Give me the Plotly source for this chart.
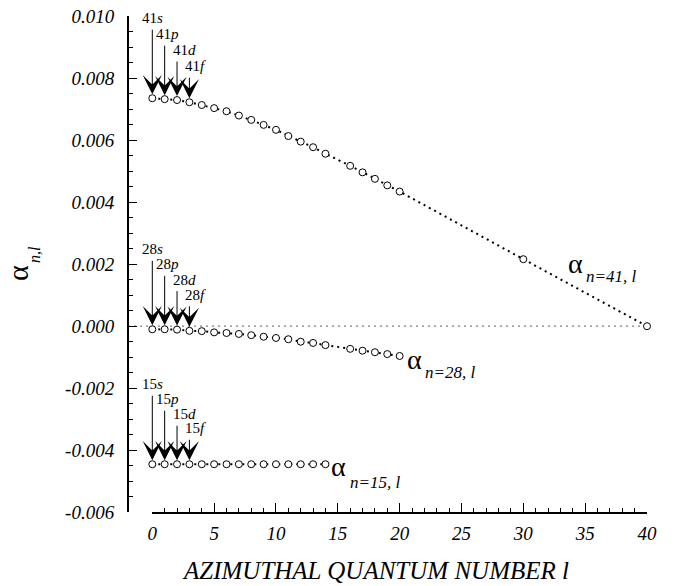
import plotly.graph_objects as go

# ---------------- data ----------------
l_41 = [0, 1, 2, 3, 4, 5, 6, 7, 8, 9, 10, 11, 12, 13, 14, 16, 17, 18, 19, 20, 30, 40]
alpha_41 = [0.00735, 0.00732, 0.00729, 0.00722, 0.00713, 0.00703, 0.00693, 0.00679,
            0.00665, 0.00649, 0.00633, 0.00613, 0.00595, 0.00577, 0.00556, 0.00517,
            0.00496, 0.00475, 0.00454, 0.00434, 0.00216, 0.00000]

l_28 = [0, 1, 2, 3, 4, 5, 6, 7, 8, 9, 10, 11, 12, 13, 14, 16, 17, 18, 19, 20]
alpha_28 = [-0.00010, -0.00010, -0.00011, -0.00015, -0.00016, -0.00020, -0.00022,
            -0.00025, -0.00029, -0.00034, -0.00038, -0.00042, -0.00050, -0.00054,
            -0.00061, -0.00073, -0.00079, -0.00084, -0.00090, -0.00096]

l_15 = [0, 1, 2, 3, 4, 5, 6, 7, 8, 9, 10, 11, 12, 13, 14]
alpha_15 = [-0.00445, -0.00445, -0.00445, -0.00445, -0.00445, -0.00445, -0.00445,
            -0.00445, -0.00445, -0.00445, -0.00445, -0.00445, -0.00445, -0.00445,
            -0.00445]

orbital_letters = ["s", "p", "d", "f"]
x_tickvals = [0, 5, 10, 15, 20, 25, 30, 35, 40]
y_tickvals = [-0.006, -0.004, -0.002, 0.000, 0.002, 0.004, 0.006, 0.008, 0.010]
y_ticktext = ["-0.006", "-0.004", "-0.002", "0.000", "0.002", "0.004", "0.006", "0.008", "0.010"]

x_title = "AZIMUTHAL QUANTUM NUMBER l"

# ---------------- layout helpers ----------------
W, H = 684, 586
OFF = 8  # page body margin
def px(xp):
    return (xp - OFF) / W
def py(yp):
    return 1 - (yp - OFF) / H

SERIF = "Liberation Serif, Times New Roman, Times, serif"

fig = go.Figure()

series = [(41, l_41, alpha_41), (28, l_28, alpha_28), (15, l_15, alpha_15)]
for n, ls, vals in series:
    fig.add_trace(go.Scatter(
        x=ls, y=vals, mode="lines+markers", cliponaxis=False,
        line=dict(color="black", width=2, dash="2px,4px"),
        marker=dict(symbol="circle", size=7, color="white",
                    line=dict(color="black", width=1)),
        showlegend=False, name=f"n={n}"))

annotations = []
arrow_ay = [-70, -55, -40, -26]
label_yshift = [80, 65, 50, 36]
label_xshift = [0, 3, 7, 6]
for n, ls, vals in series:
    for i, letter in enumerate(orbital_letters):
        annotations.append(dict(
            x=ls[i], y=vals[i], xref="x", yref="y", text="",
            showarrow=True, arrowhead=3, arrowsize=3.2, arrowwidth=1,
            arrowcolor="black", ax=0, ay=arrow_ay[i], standoff=4))
        annotations.append(dict(
            x=ls[i], y=vals[i], xref="x", yref="y",
            text=f"{n}<i>{letter}</i>", showarrow=False,
            xshift=label_xshift[i], yshift=label_yshift[i],
            font=dict(family=SERIF, size=15, color="black")))

# series labels alpha_{n,l}
series_labels = [
    (41, 34.24, 0.00202, 34.93, 0.00159),
    (28, 21.21, -0.00106, 21.90, -0.00148),
    (15, 15.06, -0.00451, 15.83, -0.00503),
]
for n, ax_, ay_, sx, sy in series_labels:
    annotations.append(dict(x=ax_, y=ay_, xref="x", yref="y", text="α",
                            showarrow=False, xanchor="center", yanchor="middle",
                            font=dict(family=SERIF, size=28, color="black")))
    annotations.append(dict(x=sx, y=sy, xref="x", yref="y", text=f"n={n}, l",
                            showarrow=False, xanchor="left", yanchor="middle",
                            font=dict(family=SERIF, size=17, color="black", style="italic")))

# y-axis title
annotations.append(dict(x=px(17), y=py(273), xref="paper", yref="paper", text="α",
                        showarrow=False, textangle=-90, xanchor="center", yanchor="middle",
                        font=dict(family=SERIF, size=30, color="black")))
annotations.append(dict(x=px(35), y=py(255), xref="paper", yref="paper", text="n,l",
                        showarrow=False, textangle=-90, xanchor="center", yanchor="middle",
                        font=dict(family=SERIF, size=16, color="black", style="italic")))
# x-axis title
annotations.append(dict(x=px(375), y=py(570), xref="paper", yref="paper", text=x_title,
                        showarrow=False, xanchor="center", yanchor="middle",
                        font=dict(family=SERIF, size=25, color="black", style="italic")))

shapes = [dict(type="line", xref="paper", yref="y", x0=px(128), x1=px(650), y0=0, y1=0,
               line=dict(color="#808080", width=1.2, dash="2px,4px"), layer="below")]

fig.update_layout(
    width=W, height=H, autosize=False,
    margin=dict(l=0, r=0, t=0, b=0, autoexpand=False),
    paper_bgcolor="white", plot_bgcolor="white",
    font=dict(family=SERIF),
    annotations=annotations, shapes=shapes,
    xaxis=dict(domain=[px(152.3), px(647)], range=[0, 40], anchor="y",
               showline=True, linecolor="black", linewidth=1.5,
               showgrid=False, zeroline=False, automargin=False,
               tickmode="array", tickvals=x_tickvals,
               ticks="inside", ticklen=10, tickwidth=1, tickcolor="black",
               minor=dict(ticks="inside", ticklen=5, dtick=1, tick0=0,
                          tickcolor="black", tickwidth=1, showgrid=False),
               ticklabelstandoff=3, ticklabeloverflow="allow",
               tickfont=dict(family=SERIF, size=19, color="black", style="italic")),
    yaxis=dict(domain=[py(512.3), py(16)], range=[-0.006, 0.010], anchor="free",
               position=px(127.7), automargin=False,
               showline=True, linecolor="black", linewidth=1.5,
               showgrid=False, zeroline=False,
               tickmode="array", tickvals=y_tickvals, ticktext=y_ticktext,
               ticks="inside", ticklen=9, tickwidth=1, tickcolor="black",
               minor=dict(ticks="inside", ticklen=5, dtick=0.0005, tick0=0,
                          tickcolor="black", tickwidth=1, showgrid=False),
               ticklabelstandoff=9, ticklabeloverflow="allow",
               tickfont=dict(family=SERIF, size=19, color="black", style="italic")),
)

fig.write_html("out.html")
